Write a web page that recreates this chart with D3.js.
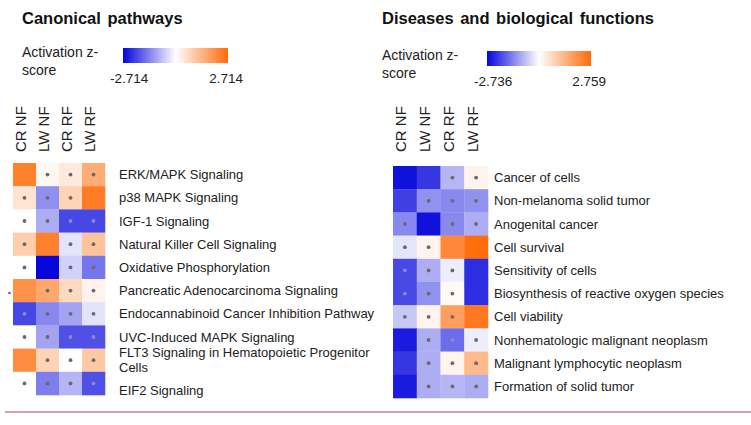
<!DOCTYPE html>
<html><head><meta charset="utf-8">
<script src="https://cdn.jsdelivr.net/npm/d3@7"></script>
<style>
html,body{margin:0;padding:0;background:#fff;}
svg{display:block;font-family:"Liberation Sans",Arial,sans-serif;}
</style></head>
<body>
<svg id="chart" width="751" height="425"></svg>
<script>
// ---- data ----
const columns = ["CR NF", "LW NF", "CR RF", "LW RF"];

const pathways = ["ERK/MAPK Signaling", "p38 MAPK Signaling", "IGF-1 Signaling",
  "Natural Killer Cell Signaling", "Oxidative Phosphorylation",
  "Pancreatic Adenocarcinoma Signaling", "Endocannabinoid Cancer Inhibition Pathway",
  "UVC-Induced MAPK Signaling", "FLT3 Signaling in Hematopoietic Progenitor Cells",
  "EIF2 Signaling"];
const pathwayZ = [
  [2.3, 0.15, 0.4, 1.5],
  [0.5, -1.2, 0.8, 2.4],
  [0.0, -0.9, -2.0, -2.0],
  [0.9, 2.3, -0.3, 1.1],
  [0.0, -2.714, -0.5, -1.5],
  [2.0, 1.6, 0.7, 0.2],
  [-2.0, -1.3, -1.0, -0.3],
  [0.0, -1.0, -1.9, -1.9],
  [2.1, 0.8, 0.0, 1.0],
  [0.0, -1.4, -0.8, -1.9]
];
const pathwayDot = [
  [0,1,1,1],[1,1,1,0],[1,1,1,1],[1,0,1,1],[1,0,1,1],
  [0,1,1,1],[1,1,1,1],[1,1,1,1],[0,1,1,1],[1,1,1,1]
];
const pathwayRange = [-2.714, 2.714];

const diseases = ["Cancer of cells", "Non-melanoma solid tumor", "Anogenital cancer",
  "Cell survival", "Sensitivity of cells", "Biosynthesis of reactive oxygen species",
  "Cell viability", "Nonhematologic malignant neoplasm", "Malignant lymphocytic neoplasm",
  "Formation of solid tumor"];
const diseaseZ = [
  [-2.6, -2.2, -0.8, 0.2],
  [-2.1, -1.2, -1.3, -1.2],
  [-1.3, -2.6, -1.3, -0.9],
  [-0.3, 0.2, 2.2, 2.7],
  [-2.0, -0.9, -0.2, -2.3],
  [-2.0, -1.2, 0.1, -2.3],
  [-0.6, 0.2, 1.8, 2.5],
  [-2.5, -0.9, -1.6, -0.2],
  [-2.2, -0.9, 0.2, 1.3],
  [-2.5, -0.9, -0.8, -0.9]
];
const diseaseDot = [
  [0,0,1,1],[0,1,1,1],[1,0,1,1],[1,1,0,0],[1,1,1,0],
  [1,1,1,0],[1,1,1,0],[0,1,1,1],[0,1,1,1],[0,1,1,1]
];
const diseaseRange = [-2.736, 2.759];

// ---- drawing ----
const svg = d3.select("#chart");
const BLUE = "#0505dc", WHITE = "#ffffff", ORANGE = "#ff6a08";

function panel(cfg) {
  const g = svg.append("g");
  const color = d3.scaleLinear().domain([cfg.range[0], 0, cfg.range[1]])
    .range([BLUE, WHITE, ORANGE]).interpolate(d3.interpolateRgb).clamp(true);

  g.append("text").attr("x", cfg.titleX).attr("y", 24)
    .attr("font-size", 16.5).attr("font-weight", "bold").attr("fill", "#111")
    .attr("word-spacing", 2).text(cfg.title);

  g.append("text").attr("x", cfg.titleX).attr("y", cfg.legY + 9)
    .attr("font-size", 14).attr("fill", "#222").text("Activation z-");
  g.append("text").attr("x", cfg.titleX).attr("y", cfg.legY + 27)
    .attr("font-size", 14).attr("fill", "#222").text("score");

  const gid = "grad" + cfg.id;
  const grad = svg.append("defs").append("linearGradient").attr("id", gid);
  d3.range(0, 1.0001, 0.1).forEach(t => {
    grad.append("stop").attr("offset", t)
      .attr("stop-color", color(cfg.range[0] + t * (cfg.range[1] - cfg.range[0])));
  });
  g.append("rect").attr("x", cfg.barX).attr("y", cfg.legY)
    .attr("width", cfg.barW).attr("height", 15).attr("fill", `url(#${gid})`);
  g.append("text").attr("x", cfg.barX - 13).attr("y", cfg.legY + 35)
    .attr("font-size", 13.5).attr("fill", "#222").text(cfg.range[0].toFixed(3));
  g.append("text").attr("x", cfg.barX + cfg.barW + 15).attr("y", cfg.legY + 35)
    .attr("text-anchor", "end").attr("font-size", 13.5).attr("fill", "#222")
    .text(cfg.range[1].toFixed(3));

  const x = d3.scaleBand().domain(columns).range([cfg.x0, cfg.x1]);
  const y = d3.scaleBand().domain(cfg.rows).range([cfg.y0, cfg.y1]);

  g.selectAll("text.col").data(columns).join("text").attr("class", "col")
    .attr("transform", d => `translate(${x(d) + x.bandwidth() / 2 + 1.5},152) rotate(-90)`)
    .attr("font-size", 15).attr("fill", "#222").text(d => d);

  const cells = [];
  cfg.rows.forEach((r, i) => columns.forEach((c, j) =>
    cells.push({ r, c, v: cfg.z[i][j], dot: cfg.dots[i][j] })));

  g.selectAll("rect.cell").data(cells).join("rect").attr("class", "cell")
    .attr("x", d => x(d.c)).attr("y", d => y(d.r))
    .attr("width", x.bandwidth() + 0.3).attr("height", y.bandwidth() + 0.3)
    .attr("fill", d => color(d.v));

  g.selectAll("circle.dot").data(cells.filter(d => d.dot)).join("circle").attr("class", "dot")
    .attr("cx", d => x(d.c) + x.bandwidth() / 2).attr("cy", d => y(d.r) + y.bandwidth() / 2)
    .attr("r", 1.9).attr("fill", d => d.v < -1.5 ? "#8a8ac8" : "#6a6a6a");

  let shift = 0;
  cfg.rows.forEach(r => {
    const cy = y(r) + y.bandwidth() / 2 + shift;
    const t = g.append("text").attr("x", cfg.x1 + cfg.labelGap)
      .attr("font-size", 13).attr("fill", "#222");
    if (cfg.wrap && cfg.wrap[r]) {
      const parts = cfg.wrap[r];
      parts.forEach((p, k) => t.append("tspan").attr("x", cfg.x1 + cfg.labelGap)
        .attr("y", cy + 4.5 + (k - (parts.length - 1) / 2) * 15).text(p));
      shift += 7;
    } else {
      t.attr("y", cy + 4.5).text(r);
    }
  });
}

panel({ id: "L", title: "Canonical pathways", titleX: 22, legY: 48, barX: 123, barW: 105,
  range: pathwayRange, rows: pathways, z: pathwayZ, dots: pathwayDot,
  x0: 13, x1: 105, y0: 163, y1: 395, labelGap: 14,
  wrap: { "FLT3 Signaling in Hematopoietic Progenitor Cells":
    ["FLT3 Signaling in Hematopoietic Progenitor", "Cells"] } });

panel({ id: "R", title: "Diseases and biological functions", titleX: 382, legY: 51, barX: 487, barW: 104,
  range: diseaseRange, rows: diseases, z: diseaseZ, dots: diseaseDot,
  x0: 393, x1: 488, y0: 166, y1: 398, labelGap: 6 });

// small stray mark and bottom rule
svg.append("circle").attr("cx", 9.5).attr("cy", 293).attr("r", 1.3).attr("fill", "#a040a0");
svg.append("line").attr("x1", 5).attr("x2", 751).attr("y1", 412).attr("y2", 412)
  .attr("stroke", "#d8a0aa").attr("stroke-width", 2);
</script>
</body></html>
